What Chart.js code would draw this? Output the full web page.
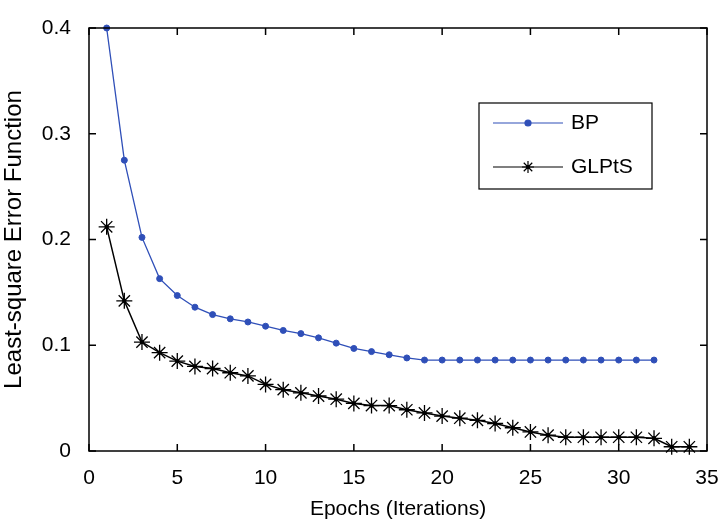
<!DOCTYPE html>
<html>
<head>
<meta charset="utf-8">
<script src="https://cdn.jsdelivr.net/npm/chart.js@4.4.0/dist/chart.umd.min.js"></script>
<style>
  html, body { margin: 0; padding: 0; background: #fff; }
  #wrap { width: 718px; height: 522px; }
</style>
</head>
<body>
<div id="wrap"><canvas id="errChart" width="718" height="522"></canvas></div>
<script>
// epochs and error values
const bpEpochs = [1, 2, 3, 4, 5, 6, 7, 8, 9, 10, 11, 12, 13, 14, 15, 16, 17, 18, 19, 20,
                  21, 22, 23, 24, 25, 26, 27, 28, 29, 30, 31, 32];
const bpError = [0.400, 0.275, 0.202, 0.163, 0.147, 0.136, 0.129, 0.125, 0.122, 0.118,
                 0.114, 0.111, 0.107, 0.102, 0.097, 0.094, 0.091, 0.088, 0.086, 0.086,
                 0.086, 0.086, 0.086, 0.086, 0.086, 0.086, 0.086, 0.086, 0.086, 0.086,
                 0.086, 0.086];
const glEpochs = [1, 2, 3, 4, 5, 6, 7, 8, 9, 10, 11, 12, 13, 14, 15, 16, 17, 18, 19, 20,
                  21, 22, 23, 24, 25, 26, 27, 28, 29, 30, 31, 32, 33, 34];
const glError = [0.212, 0.142, 0.103, 0.093, 0.085, 0.080, 0.078, 0.074, 0.071, 0.063,
                 0.058, 0.055, 0.052, 0.049, 0.045, 0.043, 0.043, 0.039, 0.036, 0.033,
                 0.031, 0.029, 0.026, 0.022, 0.018, 0.015, 0.013, 0.013, 0.013, 0.013,
                 0.013, 0.012, 0.004, 0.004];
const xTicks = [0, 5, 10, 15, 20, 25, 30, 35];
const yTicks = [0, 0.1, 0.2, 0.3, 0.4];
const seriesNames = ['BP', 'GLPtS'];

const FONT = '"Liberation Sans Narrow", "Liberation Sans", Arial, sans-serif';
const BLUE = '#2f4fb8';

// matlab style frame with inward ticks + boxed legend
const framePlugin = {
    id: 'frame',
    afterDraw(chart) {
        const { ctx, chartArea: a, scales: { x, y } } = chart;
        ctx.save();
        ctx.strokeStyle = '#000';
        ctx.lineWidth = 1.5;
        ctx.strokeRect(a.left, a.top, a.right - a.left, a.bottom - a.top);
        ctx.beginPath();
        xTicks.forEach(v => {
            const px = x.getPixelForValue(v);
            ctx.moveTo(px, a.bottom); ctx.lineTo(px, a.bottom - 7);
            ctx.moveTo(px, a.top); ctx.lineTo(px, a.top + 7);
        });
        yTicks.forEach(v => {
            const py = y.getPixelForValue(v);
            ctx.moveTo(a.left, py); ctx.lineTo(a.left + 7, py);
            ctx.moveTo(a.right, py); ctx.lineTo(a.right - 7, py);
        });
        ctx.stroke();

        // legend box
        const lx = a.left + 390, ly = a.top + 75, lw = 173, lh = 86;
        ctx.fillStyle = '#fff';
        ctx.fillRect(lx, ly, lw, lh);
        ctx.lineWidth = 1.2;
        ctx.strokeRect(lx, ly, lw, lh);
        ctx.font = '21px ' + FONT;
        ctx.textBaseline = 'middle';
        chart.data.datasets.forEach((ds, i) => {
            const rowY = ly + 20 + i * 44;
            ctx.strokeStyle = ds.borderColor;
            ctx.fillStyle = ds.borderColor;
            ctx.lineWidth = 1.2;
            ctx.beginPath();
            ctx.moveTo(lx + 14, rowY); ctx.lineTo(lx + 84, rowY);
            ctx.stroke();
            Chart.helpers.drawPoint(ctx, {
                pointStyle: ds.pointStyle,
                radius: ds.pointStyle === 'star' ? 6 : ds.pointRadius,
                borderWidth: 1
            }, lx + 49, rowY);
            if (ds.pointStyle === 'star') {
                ctx.beginPath(); ctx.arc(lx + 49, rowY, 2, 0, Math.PI * 2); ctx.fill();
            }
            ctx.fillStyle = '#000';
            ctx.fillText(ds.label, lx + 92, rowY);
        });
        ctx.restore();
    }
};

// small filled dot in the centre of each star marker
const starDotPlugin = {
    id: 'starDot',
    afterDatasetsDraw(chart) {
        const ctx = chart.ctx;
        const meta = chart.getDatasetMeta(1);
        ctx.save();
        ctx.fillStyle = '#000';
        meta.data.forEach(pt => {
            ctx.beginPath(); ctx.arc(pt.x, pt.y, 2.2, 0, Math.PI * 2); ctx.fill();
        });
        ctx.restore();
    }
};

const ctx = document.getElementById('errChart').getContext('2d');
new Chart(ctx, {
    type: 'line',
    data: {
        datasets: [{
            label: seriesNames[0],
            data: bpEpochs.map((e, i) => ({ x: e, y: bpError[i] })),
            borderColor: BLUE,
            backgroundColor: BLUE,
            borderWidth: 1.3,
            pointStyle: 'circle',
            pointRadius: 3,
            pointBorderWidth: 1,
            pointBackgroundColor: BLUE,
            pointBorderColor: BLUE,
            tension: 0,
            clip: false
        }, {
            label: seriesNames[1],
            data: glEpochs.map((e, i) => ({ x: e, y: glError[i] })),
            borderColor: '#000',
            backgroundColor: '#000',
            borderWidth: 1.5,
            pointStyle: 'star',
            pointRadius: 8,
            pointBorderWidth: 1.3,
            pointBorderColor: '#000',
            tension: 0,
            clip: false
        }]
    },
    options: {
        responsive: false,
        animation: false,
        layout: { padding: { left: 0, right: 11, top: 28, bottom: 0 } },
        plugins: {
            legend: { display: false },
            tooltip: { enabled: false }
        },
        scales: {
            x: {
                type: 'linear',
                min: 0, max: 35,
                afterBuildTicks: s => { s.ticks = xTicks.map(v => ({ value: v })); },
                afterFit: s => { s.height = 71; s.paddingLeft = 0; s.paddingRight = 0; },
                grid: { display: false },
                border: { display: false },
                ticks: { color: '#000', padding: 7, font: { family: FONT, size: 21 } },
                title: {
                    display: true, text: 'Epochs (Iterations)', color: '#000',
                    font: { family: FONT, size: 21 }, padding: { top: 2, bottom: 0 }
                }
            },
            y: {
                min: 0, max: 0.4,
                afterBuildTicks: s => { s.ticks = yTicks.map(v => ({ value: v })); },
                afterFit: s => { s.width = 89; s.paddingTop = 0; s.paddingBottom = 0; },
                grid: { display: false },
                border: { display: false },
                ticks: {
                    color: '#000', padding: 10, font: { family: FONT, size: 21 },
                    callback: v => v === 0 ? '0' : v.toFixed(1)
                },
                title: {
                    display: true, text: 'Least-square Error Function', color: '#000',
                    font: { family: FONT, size: 24 }, padding: { top: 0, bottom: 4 }
                }
            }
        }
    },
    plugins: [starDotPlugin, framePlugin]
});
</script>
</body>
</html>
